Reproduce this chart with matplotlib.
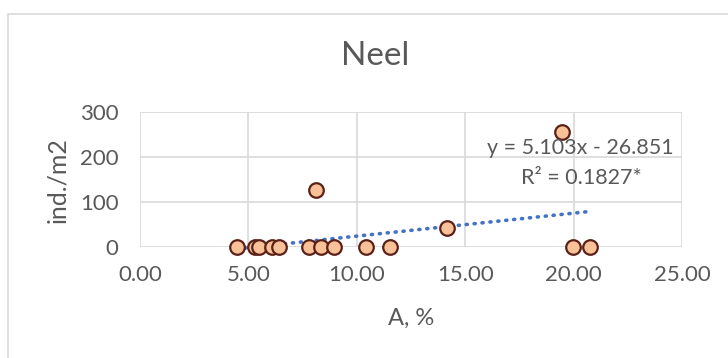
import matplotlib
matplotlib.use("Agg")
import matplotlib.pyplot as plt
from matplotlib.patches import Rectangle
import numpy as np

# Data
area_pct = [4.48, 5.30, 5.50, 6.10, 6.40, 7.79, 8.10, 8.37, 8.94, 10.41, 11.52, 14.16, 19.46, 19.97, 20.77]
density = [0, 0, 0, 0, 0, 0, 127, 0, 0, 0, 0, 42, 255, 0, 0]
slope = 5.103
intercept = -26.851
eq_label = "y = 5.103x - 26.851"
r2_label = "R\u00b2 = 0.1827*"
title = "Neel"
xlabel = "A, %"
ylabel = "ind./m2"
xticks = [0, 5, 10, 15, 20, 25]
yticks = [0, 100, 200, 300]

W, H = 728, 358
plt.rcParams['font.family'] = ['Lato', 'DejaVu Sans']
txt = '#595959'

fig = plt.figure(figsize=(W / 100, H / 100), dpi=100)
ax = fig.add_axes([140 / W, 1 - 247 / H, (682 - 140) / W, (247 - 112) / H])

ax.set_xlim(0, 25)
ax.set_ylim(0, 300)
ax.set_xticks(xticks)
ax.set_yticks(yticks)
ax.set_xticklabels([f"{v:.2f}" for v in xticks])
ax.set_yticklabels([str(v) for v in yticks])
ax.grid(True, color='#D9D9D9', lw=1.2)
ax.set_axisbelow(True)
for s in ax.spines.values():
    s.set_visible(False)
ax.tick_params(length=0, labelsize=16, labelcolor=txt)
ax.tick_params(axis='x', pad=13)
ax.tick_params(axis='y', pad=15.5)

xs = np.array([min(area_pct), max(area_pct)])
ax.plot(xs, slope * xs + intercept, color='#4472C4', lw=2.6,
        linestyle=(0, (0.3, 1.9)), dash_capstyle='round', clip_on=False, zorder=2)
ax.scatter(area_pct, density, s=110, facecolor='#F8C197', edgecolor='#5B2118',
           linewidths=1.6, clip_on=False, zorder=3)

fig.text(580 / W, 1 - 148 / H, eq_label, fontsize=15.5, color=txt, ha='center', va='center')
fig.text(581 / W, 1 - 178 / H, r2_label, fontsize=15.5, color=txt, ha='center', va='center')
fig.text(375 / W, 1 - 56 / H, title, fontsize=24, color=txt, ha='center', va='center')
fig.text(411 / W, 1 - 318 / H, xlabel, fontsize=17, color=txt, ha='center', va='center')
fig.text(58 / W, 1 - 180 / H, ylabel, fontsize=18, color=txt, ha='center', va='center', rotation=90)

fig.patches.append(Rectangle((7.5 / W, -0.1), 1.2, 1 - 13.5 / H + 0.1, transform=fig.transFigure,
                             fill=False, edgecolor='#D9D9D9', lw=1.2))
fig.savefig("out.png", dpi=100)
